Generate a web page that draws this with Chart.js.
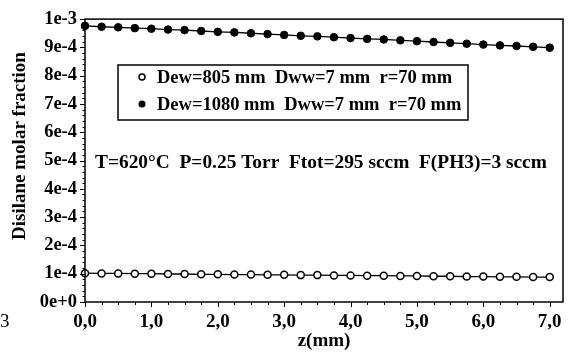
<!DOCTYPE html>
<html>
<head>
<meta charset="utf-8">
<script src="https://cdn.jsdelivr.net/npm/chart.js@4/dist/chart.umd.min.js"></script>
<style>
  html, body { margin: 0; padding: 0; background: #fff; }
  #wrap { width: 571px; height: 354px; position: relative; }
</style>
</head>
<body>
<div id="wrap"><canvas id="c" width="571" height="354"></canvas></div>
<script>
// ---- data ----
const zValues = [0, 0.25, 0.5, 0.75, 1.0, 1.25, 1.5, 1.75, 2.0, 2.25, 2.5, 2.75, 3.0, 3.25, 3.5, 3.75,
                 4.0, 4.25, 4.5, 4.75, 5.0, 5.25, 5.5, 5.75, 6.0, 6.25, 6.5, 6.75, 7.0];
const dew805 = [1.02e-4, 1.01e-4, 1.01e-4, 1.00e-4, 1.00e-4, 0.99e-4, 0.99e-4, 0.98e-4, 0.98e-4, 0.97e-4,
                0.97e-4, 0.96e-4, 0.96e-4, 0.95e-4, 0.95e-4, 0.94e-4, 0.94e-4, 0.93e-4, 0.93e-4, 0.92e-4,
                0.92e-4, 0.91e-4, 0.91e-4, 0.90e-4, 0.90e-4, 0.89e-4, 0.89e-4, 0.88e-4, 0.88e-4];
const dew1080 = [9.76e-4, 9.73e-4, 9.71e-4, 9.68e-4, 9.66e-4, 9.63e-4, 9.61e-4, 9.58e-4, 9.55e-4, 9.53e-4,
                 9.50e-4, 9.47e-4, 9.44e-4, 9.41e-4, 9.39e-4, 9.36e-4, 9.33e-4, 9.30e-4, 9.28e-4, 9.25e-4,
                 9.22e-4, 9.19e-4, 9.16e-4, 9.13e-4, 9.10e-4, 9.07e-4, 9.05e-4, 9.02e-4, 8.99e-4];
const yTickLabels = ['0e+0', '1e-4', '2e-4', '3e-4', '4e-4', '5e-4', '6e-4', '7e-4', '8e-4', '9e-4', '1e-3'];
const xTickLabels = ['0,0', '1,0', '2,0', '3,0', '4,0', '5,0', '6,0', '7,0'];
const seriesNames = ['Dew=805 mm  Dww=7 mm  r=70 mm', 'Dew=1080 mm  Dww=7 mm  r=70 mm'];
const conditionsText = 'T=620°C  P=0.25 Torr  Ftot=295 sccm  F(PH3)=3 sccm';
const yAxisTitle = 'Disilane molar fraction';
const xAxisTitle = 'z(mm)';
const strayLabel = '3';

const SERIF = '"Liberation Serif", "DejaVu Serif", serif';

const framePlugin = {
  id: 'frame',
  afterDraw(chart) {
    const {ctx, chartArea: a, scales: {x, y}} = chart;
    ctx.save();
    ctx.strokeStyle = '#000';
    ctx.lineWidth = 1.5;
    ctx.strokeRect(a.left, a.top, a.right - a.left, a.bottom - a.top);
    ctx.lineWidth = 1;
    ctx.beginPath();
    // x ticks (outside, below)
    for (let v = 0; v <= 7.2001; v += 0.25) {
      const px = Math.round(x.getPixelForValue(v)) + 0.5;
      const major = Math.abs(v - Math.round(v)) < 1e-6;
      ctx.moveTo(px, a.bottom);
      ctx.lineTo(px, a.bottom + (major ? 5 : 3));
    }
    // y ticks (outside, left)
    for (let i = 0; i <= 50; i++) {
      const v = i * 2e-5;
      const py = Math.round(y.getPixelForValue(v)) + 0.5;
      const major = i % 5 === 0;
      ctx.moveTo(a.left, py);
      ctx.lineTo(a.left - (major ? 5 : 2.5), py);
    }
    ctx.stroke();

    // y-axis title (rotated)
    ctx.fillStyle = '#000';
    ctx.save();
    ctx.translate(20, 146);
    ctx.rotate(-Math.PI / 2);
    ctx.font = 'bold 19px ' + SERIF;
    ctx.textAlign = 'center';
    ctx.textBaseline = 'middle';
    ctx.fillText(yAxisTitle, 0, 0);
    ctx.restore();

    // legend box
    ctx.lineWidth = 1.5;
    ctx.strokeRect(118, 65, 350, 55);
    ctx.font = 'bold 18.5px ' + SERIF;
    ctx.textBaseline = 'middle';
    ctx.textAlign = 'left';
    ctx.beginPath();
    ctx.arc(142, 77, 3, 0, Math.PI * 2);
    ctx.lineWidth = 1.5;
    ctx.stroke();
    ctx.fillText(seriesNames[0], 157, 78);
    ctx.beginPath();
    ctx.arc(142, 104, 3.5, 0, Math.PI * 2);
    ctx.fill();
    ctx.fillText(seriesNames[1], 157, 105);
    // conditions annotation
    ctx.font = 'bold 19.4px ' + SERIF;
    ctx.fillText(conditionsText, 95, 163);
    // stray scan label at left edge
    ctx.font = '19px ' + SERIF;
    ctx.fillText(strayLabel, 0, 322);
    ctx.restore();
  }
};

new Chart(document.getElementById('c'), {
  type: 'line',
  data: {
    datasets: [
      {
        label: seriesNames[0],
        data: zValues.map((z, i) => ({x: z, y: dew805[i]})),
        borderColor: '#000', borderWidth: 1.3,
        pointStyle: 'circle', pointRadius: 3.5, pointBorderWidth: 1.5,
        pointBackgroundColor: '#fff', pointBorderColor: '#000',
        tension: 0
      },
      {
        label: seriesNames[1],
        data: zValues.map((z, i) => ({x: z, y: dew1080[i]})),
        borderColor: '#000', borderWidth: 1.3,
        pointStyle: 'circle', pointRadius: 3.8, pointBorderWidth: 1,
        pointBackgroundColor: '#000', pointBorderColor: '#000',
        tension: 0
      }
    ]
  },
  options: {
    responsive: false,
    animation: false,
    events: [],
    clip: false,
    layout: { padding: { left: 0, right: 8, top: 16, bottom: 0 } },
    plugins: { legend: { display: false }, tooltip: { enabled: false } },
    scales: {
      x: {
        type: 'linear', min: 0, max: 7.2,
        afterFit(s) { s.height = 52; },
        afterBuildTicks(s) { s.ticks = xTickLabels.map((_, i) => ({value: i})); },
        grid: { display: false, drawTicks: false },
        border: { display: false },
        ticks: {
          padding: 9, color: '#000',
          font: { family: SERIF, size: 19, weight: 'bold' },
          callback: (v, i) => xTickLabels[i]
        },
        title: {
          display: true, text: xAxisTitle, color: '#000',
          font: { family: SERIF, size: 19, weight: 'bold' },
          padding: { top: 0, bottom: 2 }
        }
      },
      y: {
        type: 'linear', min: 0, max: 1e-3,
        afterFit(s) { s.width = 85; },
        afterBuildTicks(s) { s.ticks = yTickLabels.map((_, i) => ({value: i * 1e-4})); },
        grid: { display: false, drawTicks: false },
        border: { display: false },
        ticks: {
          padding: 8, color: '#000',
          font: { family: SERIF, size: 18.5, weight: 'bold' },
          callback: (v, i) => yTickLabels[i]
        },
        title: { display: false }
      }
    }
  },
  plugins: [framePlugin]
});
</script>
</body>
</html>
